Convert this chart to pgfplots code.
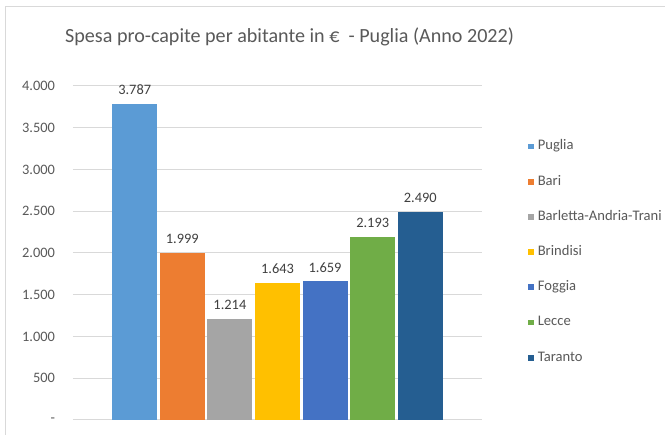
\documentclass[border=0pt]{standalone}
\usepackage{fontspec}
\setmainfont{Carlito}
\usepackage{pgfplots}
\pgfplotsset{compat=1.18}
\definecolor{cPuglia}{HTML}{5B9BD5}
\definecolor{cBari}{HTML}{ED7D31}
\definecolor{cBAT}{HTML}{A5A5A5}
\definecolor{cBrindisi}{HTML}{FFC000}
\definecolor{cFoggia}{HTML}{4472C4}
\definecolor{cLecce}{HTML}{70AD47}
\definecolor{cTaranto}{HTML}{255E91}
\definecolor{tgray}{HTML}{595959}
\definecolor{lgray}{HTML}{404040}
\definecolor{gridc}{HTML}{D9D9D9}
\begin{document}
\begin{tikzpicture}[x=1pt,y=1pt]
\useasboundingbox (0,0) rectangle (665,435);
\fill[white] (0,0) rectangle (665,435);
\draw[color=gridc, line width=1pt] (5,-5) -- (5,428) -- (670,428);
\node[anchor=base west, text=tgray, font=\fontsize{20.1}{24}\selectfont, inner sep=0pt] at (65,392) {Spesa pro-capite per abitante in €\ \ - Puglia (Anno 2022)};
\begin{axis}[
  at={(73pt,15pt)}, anchor=south west,
  scale only axis, width=409pt, height=334pt,
  ymin=0, ymax=4000, xmin=-1, xmax=1,
  ybar=2.6pt, bar width=45pt,
  xtick=\empty,
  ytick={0,500,...,4000},
  yticklabels={-,500,1.000,1.500,2.000,2.500,3.000,3.500,4.000},
  yticklabel style={font=\fontsize{14.4}{16}\selectfont, text=tgray, xshift=-14.5pt},
  major tick length=0pt,
  axis line style={draw=none},
  ymajorgrids, grid style={color=gridc, line width=1pt},
  nodes near coords,
  every node near coord/.append style={font=\fontsize{14.4}{16}\selectfont, text=lgray, yshift=5.5pt,
     /pgf/number format/.cd, 1000 sep={.}, assume math mode=true},
  legend style={at={(525pt-73pt,282pt)}, anchor=north west, draw=none, fill=none,
     font=\fontsize{14.6}{16}\selectfont, text=tgray, row sep=22.7pt,
     nodes={inner sep=0pt, text height=9.8pt, text depth=2.7pt},
     /tikz/every odd column/.append style={column sep=4pt}},
  legend cell align=left,
  legend image code/.code={\fill[#1] (0pt,-2.9pt) rectangle (5.6pt,2.9pt);},
  clip=false,
]
\addplot[fill=cPuglia, draw=none] coordinates {(0,3787)};
\addplot[fill=cBari, draw=none] coordinates {(0,1999)};
\addplot[fill=cBAT, draw=none] coordinates {(0,1214)};
\addplot[fill=cBrindisi, draw=none] coordinates {(0,1643)};
\addplot[fill=cFoggia, draw=none] coordinates {(0,1659)};
\addplot[fill=cLecce, draw=none] coordinates {(0,2193)};
\addplot[fill=cTaranto, draw=none] coordinates {(0,2490)};
\legend{Puglia,Bari,Barletta-Andria-Trani,Brindisi,Foggia,Lecce,Taranto}
\end{axis}
\end{tikzpicture}
\end{document}
